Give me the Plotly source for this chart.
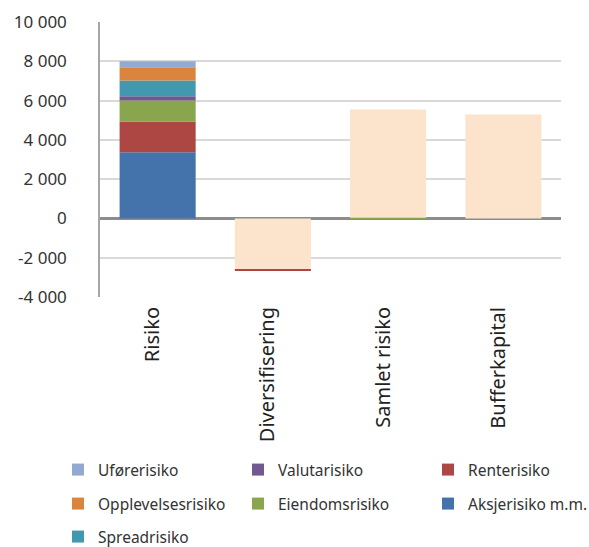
import plotly.graph_objects as go

categories = ["Risiko", "Diversifisering", "Samlet risiko", "Bufferkapital"]

# risk components (stacked, bottom to top in the first column)
aksjerisiko = [3370, 0, 0, 0]
renterisiko = [1560, -60, 0, 0]
eiendomsrisiko = [1070, 0, 40, 0]
valutarisiko = [220, 0, 0, 0]
spreadrisiko = [800, 0, 0, 0]
opplevelsesrisiko = [680, 0, 0, 0]
uforerisiko = [300, 0, 0, 0]

# totals shown as pale columns
diversifisering = [0, -2580, 0, 0]
totaler = [0, 0, 5510, 5290]

y_ticks = [-4000, -2000, 0, 2000, 4000, 6000, 8000, 10000]
y_tick_text = ["-4 000", "-2 000", "0", "2 000", "4 000", "6 000", "8 000", "10 000"]

PEACH = "#FCE3CC"
W, H = 589, 547

series = [
    ("Aksjerisiko m.m.", aksjerisiko, "#4472AA", "legend6"),
    ("Renterisiko", renterisiko, "#AD4744", "legend3"),
    ("Eiendomsrisiko", eiendomsrisiko, "#89A54E", "legend5"),
    ("Valutarisiko", valutarisiko, "#71588F", "legend2"),
    ("Spreadrisiko", spreadrisiko, "#4198AF", "legend7"),
    ("Opplevelsesrisiko", opplevelsesrisiko, "#DB843D", "legend4"),
    ("Uførerisiko", uforerisiko, "#93A9CF", "legend"),
]

fig = go.Figure()

fig.add_trace(go.Bar(x=categories, y=diversifisering, marker_color=PEACH,
                     marker_line_width=0, showlegend=False, hoverinfo="skip"))
for name, vals, col, lg in series:
    fig.add_trace(go.Bar(x=categories, y=vals, name=name, marker_color=col,
                         marker_line_width=0, legend=lg))
fig.add_trace(go.Bar(x=categories, y=totaler, marker_color=PEACH,
                     marker_line_width=0, showlegend=False, hoverinfo="skip"))

FONT = "Noto Sans, Open Sans, sans-serif"


def leg(px, py):
    # legend placed by pixel position in the page
    return dict(x=px / W, y=1 - py / H, xref="container", yref="container",
                xanchor="left", yanchor="middle", bgcolor="rgba(0,0,0,0)",
                font=dict(family=FONT, size=15.5, color="#333333"),
                itemwidth=30, itemsizing="constant", tracegroupgap=0)


col_x = [58, 238, 428]
row_y = [470, 504, 537]

fig.update_layout(
    width=W, height=H,
    margin=dict(l=100, r=28, t=22, b=250, autoexpand=False),
    paper_bgcolor="white", plot_bgcolor="white",
    barmode="relative", bargap=0.34,
    font=dict(family=FONT, size=14, color="#333333"),
    legend=leg(col_x[0], row_y[0]),
    legend2=leg(col_x[1], row_y[0]),
    legend3=leg(col_x[2], row_y[0]),
    legend4=leg(col_x[0], row_y[1]),
    legend5=leg(col_x[1], row_y[1]),
    legend6=leg(col_x[2], row_y[1]),
    legend7=leg(col_x[0], row_y[2]),
)

fig.update_yaxes(
    range=[-4000, 10000], tickvals=y_ticks, ticktext=y_tick_text,
    showgrid=True, gridcolor="#D9D9D9", gridwidth=1.5,
    showline=True, linecolor="#A6A6A6", linewidth=1.5,
    zeroline=True, zerolinecolor="#8C8C8C", zerolinewidth=2.5,
    ticks="", ticklen=0, ticklabelstandoff=28, automargin=False,
    tickfont=dict(family=FONT, size=17, color="#333333"),
)
fig.update_xaxes(
    showline=False, showgrid=False, tickangle=-90, ticks="", ticklen=0,
    ticklabelshift=-5, ticklabelstandoff=5, automargin=False,
    tickfont=dict(family=FONT, size=20, color="#222222"),
)

fig.write_html("out.html")
